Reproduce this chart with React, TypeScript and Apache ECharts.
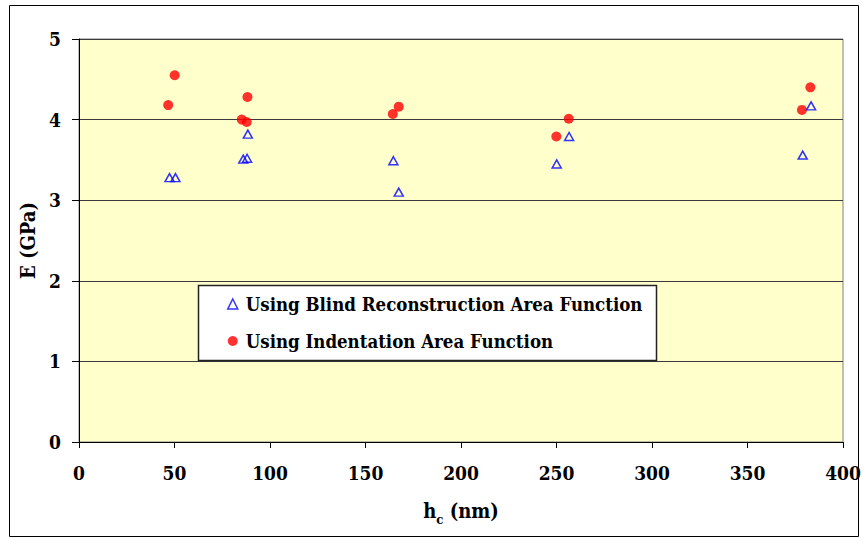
import React, { useEffect, useRef } from "react";
import * as echarts from "echarts";

const blindX = [47.4, 50.5, 86, 88, 88.4, 164.6, 167.4, 250.1, 256.6, 378.9, 383.3];
const blindY = [3.28, 3.28, 3.51, 3.52, 3.82, 3.49, 3.1, 3.45, 3.79, 3.56, 4.17];
const indentX = [46.7, 50.1, 85.2, 87.8, 88.2, 164.3, 167.4, 249.9, 256.4, 378.5, 382.9];
const indentY = [4.18, 4.55, 4.0, 3.97, 4.28, 4.07, 4.16, 3.79, 4.01, 4.12, 4.4];
const seriesNames = ["Using Blind Reconstruction Area Function", "Using Indentation Area Function"];
const xTicks = { min: 0, max: 400, interval: 50 };
const yTicks = { min: 0, max: 5, interval: 1 };

const FONT = "DejaVu Serif Condensed, DejaVu Serif";

export default function App() {
  const ref = useRef<HTMLDivElement>(null);
  useEffect(() => {
    if (!ref.current) return;
    const chart = echarts.init(ref.current, undefined, { renderer: "svg" });
    const blind = blindX.map((x, i) => [x, blindY[i]]);
    const indent = indentX.map((x, i) => [x, indentY[i]]);
    chart.setOption({
      animation: false,
      backgroundColor: "#ffffff",
      textStyle: { fontFamily: FONT },
      grid: {
        left: 79,
        top: 39,
        right: 19,
        bottom: 96,
        outerBoundsMode: "none",
        containLabel: false,
        show: true,
        backgroundColor: "#FFFFCC",
        borderColor: "#808080",
        borderWidth: 1,
      },
      xAxis: {
        type: "value",
        min: xTicks.min,
        max: xTicks.max,
        interval: xTicks.interval,
        name: "{h|h}{c|c}{n| (nm)}",
        nameLocation: "middle",
        nameGap: 59,
        nameTextStyle: {
          fontFamily: FONT,
          fontWeight: "bold",
          rich: {
            h: { fontFamily: FONT, fontWeight: "bold", fontSize: 20, color: "#000", verticalAlign: "bottom", padding: [0, 0, 5, 0] },
            c: { fontFamily: FONT, fontWeight: "bold", fontSize: 13, color: "#000", verticalAlign: "bottom" },
            n: { fontFamily: FONT, fontWeight: "bold", fontSize: 20, color: "#000", verticalAlign: "bottom", padding: [0, 0, 5, 0] },
          },
        },
        axisLine: { show: true, onZero: false, lineStyle: { color: "#000", width: 1 } },
        axisTick: { show: true, inside: false, length: 6, lineStyle: { color: "#000" } },
        axisLabel: { margin: 21, fontFamily: FONT, fontWeight: "bold", fontSize: 19, color: "#000" },
        splitLine: { show: false },
      },
      yAxis: {
        type: "value",
        min: yTicks.min,
        max: yTicks.max,
        interval: yTicks.interval,
        name: "E (GPa)",
        nameLocation: "middle",
        nameGap: 37,
        nameTextStyle: { fontFamily: FONT, fontWeight: "bold", fontSize: 20, color: "#000" },
        axisLine: { show: true, onZero: false, lineStyle: { color: "#000", width: 1 } },
        axisTick: { show: true, inside: false, length: 7, lineStyle: { color: "#000" } },
        axisLabel: { margin: 18, fontFamily: FONT, fontWeight: "bold", fontSize: 19, color: "#000" },
        splitLine: { show: true, lineStyle: { color: "#3a3a3a", width: 1 } },
      },
      legend: {
        orient: "vertical",
        left: 227,
        top: 294,
        padding: 0,
        itemGap: 17,
        itemWidth: 10,
        itemHeight: 10,
        z: 30,
        data: [
          { name: seriesNames[0], icon: "triangle", itemStyle: { color: "rgba(0,0,0,0)", borderColor: "#0000FF", borderWidth: 1.5 } },
          { name: seriesNames[1], icon: "circle", itemStyle: { color: "#FF0000" } },
        ],
        textStyle: { fontFamily: FONT, fontWeight: "bold", fontSize: 18.5, color: "#000", lineHeight: 20, padding: [0, 0, 0, 3] },
      },
      graphic: [
        {
          type: "rect",
          z: 1,
          shape: { x: 9.5, y: 5.5, width: 849, height: 531 },
          style: { fill: "none", stroke: "#000", lineWidth: 1 },
          silent: true,
        },
        {
          type: "rect",
          z: 20,
          shape: { x: 198.5, y: 285.5, width: 458, height: 75 },
          style: { fill: "#ffffff", stroke: "#222", lineWidth: 1.5 },
          silent: true,
        },
      ],
      series: [
        {
          name: seriesNames[0],
          type: "scatter",
          data: blind,
          symbol: "triangle",
          symbolSize: [9, 8],
          itemStyle: { color: "rgba(0,0,0,0)", borderColor: "#0000FF", borderWidth: 1.5 },
          z: 3,
        },
        {
          name: seriesNames[1],
          type: "scatter",
          data: indent,
          symbol: "circle",
          symbolSize: 10,
          itemStyle: { color: "#FF0000" },
          z: 2,
        },
      ],
    });
    return () => chart.dispose();
  }, []);
  return (
    <div
      ref={ref}
      style={{ position: "fixed", left: 0, top: 0, width: 862, height: 538, background: "#fff" }}
    />
  );
}
